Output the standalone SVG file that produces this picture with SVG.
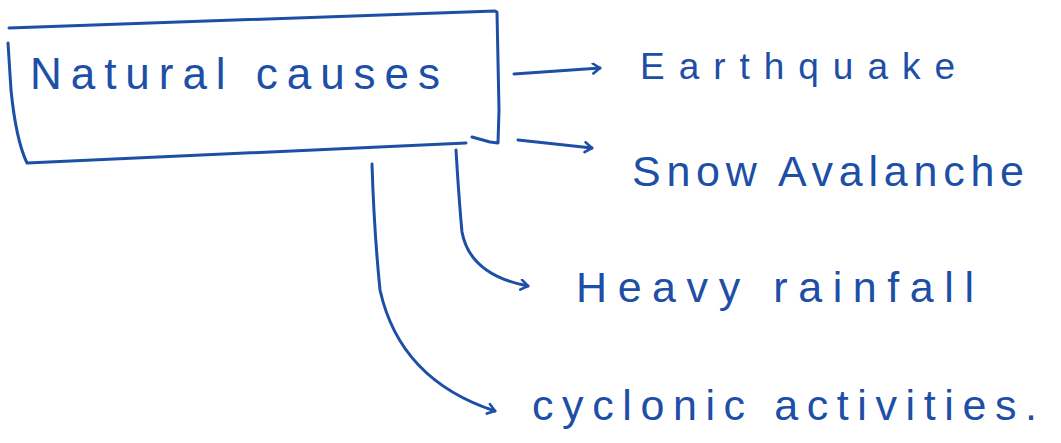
<svg xmlns="http://www.w3.org/2000/svg" width="1061" height="443" viewBox="0 0 1061 443">
<defs>
<style>
.ink{fill:none;stroke:#1d4fa6;stroke-width:3;stroke-linecap:round;stroke-linejoin:round}
.t{font-family:"Liberation Sans",Arial,sans-serif;fill:#1d4fa6;font-weight:normal}
</style>
<marker id="ah" markerWidth="14" markerHeight="14" refX="10" refY="6" orient="auto" markerUnits="userSpaceOnUse">
<path d="M3,1 L10,6 L3,11" fill="none" stroke="#1d4fa6" stroke-width="2.6" stroke-linecap="round" stroke-linejoin="round"/>
</marker>
</defs>
<rect width="1061" height="443" fill="#ffffff"/>
<g id="node-natural">
<path class="ink" d="M9,28 L495,11 L497,12 L499,110 L498,143 L490,142 L472,137"/>
<path class="ink" d="M8,43 L11,90 Q16,140 27,163 L466,143"/>
<text class="t" x="30" y="89" font-size="44" textLength="410" lengthAdjust="spacing">Natural causes</text>
</g>
<g id="node-earthquake">
<text class="t" x="640" y="79" font-size="37" textLength="315" lengthAdjust="spacing">Earthquake</text>
</g>
<g id="node-snow">
<text class="t" x="632" y="186" font-size="43" textLength="392" lengthAdjust="spacing">Snow Avalanche</text>
</g>
<g id="node-rainfall">
<text class="t" x="576" y="302" font-size="43" textLength="398" lengthAdjust="spacing">Heavy rainfall</text>
</g>
<g id="node-cyclonic">
<text class="t" x="532" y="420" font-size="43" textLength="505" lengthAdjust="spacing">cyclonic activities.</text>
</g>
<g id="connectors">
<path class="ink" marker-end="url(#ah)" d="M514,74 L600,68"/>
<path class="ink" marker-end="url(#ah)" d="M518,140 L592,148"/>
<path class="ink" marker-end="url(#ah)" d="M456,150 Q459,200 462,232 Q470,275 528,286"/>
<path class="ink" marker-end="url(#ah)" d="M372,164 Q374,230 380,290 Q400,380 495,411"/>
</g>
</svg>
